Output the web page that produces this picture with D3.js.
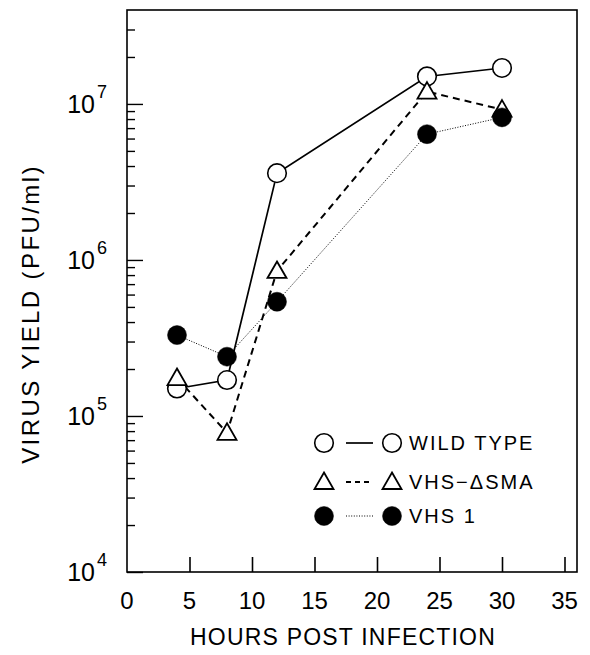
<!DOCTYPE html>
<html>
<head>
<meta charset="utf-8">
<script src="https://cdn.jsdelivr.net/npm/d3@7"></script>
<style>
  html, body { margin: 0; padding: 0; background: #fff; }
  svg text { font-family: "Liberation Sans", Arial, sans-serif; fill: #000; }
</style>
</head>
<body>
<svg id="chart" width="590" height="655"></svg>
<script>
// ---- data ----
const hours = [4, 8, 12, 24, 30];
const wildType = [1.5e5, 1.7e5, 3.6e6, 1.5e7, 1.7e7];
const vhsDeltaSMA = [1.75e5, 7.8e4, 8.5e5, 1.2e7, 9.2e6];
const vhs1 = [3.3e5, 2.4e5, 5.4e5, 6.4e6, 8.2e6];
const xTicks = [0, 5, 10, 15, 20, 25, 30, 35];
const yMajorExps = [4, 5, 6, 7];
const seriesNames = ["WILD TYPE", "VHS\u2212\u0394SMA", "VHS 1"];
const xTitle = "HOURS POST INFECTION";
const yTitle = "VIRUS YIELD (PFU/ml)";

// ---- layout ----
const L = 127, R = 577, T = 10, B = 572;
const svg = d3.select("#chart");
const x = d3.scaleLinear().domain([0, 36]).range([L, R]);
const y = d3.scaleLog().domain([1e4, 4e7]).range([B, T]);

// frame
svg.append("rect").attr("x", L).attr("y", T).attr("width", R - L).attr("height", B - T)
  .attr("fill", "none").attr("stroke", "#000").attr("stroke-width", 1.6);

// x axis ticks (inward)
const xAxis = d3.axisBottom(x).tickValues(xTicks.filter(d => d > 0)).tickSize(-15).tickFormat("");
const gx = svg.append("g").attr("transform", `translate(0,${B})`).call(xAxis);
gx.select(".domain").remove();
gx.selectAll(".tick line").attr("stroke", "#000").attr("stroke-width", 1.6);
svg.selectAll(".xlab").data(xTicks).enter().append("text")
  .attr("x", d => x(d)).attr("y", 609).attr("text-anchor", "middle")
  .attr("font-size", 24).text(d => d);

// y axis ticks (log, inward)
const yTickVals = [];
for (let e = 4; e <= 7; e++) for (let m = 1; m <= 9; m++) {
  const v = m * Math.pow(10, e);
  if (v >= 1e4 && v < 4e7) yTickVals.push(v);
}
const yAxis = d3.axisLeft(y).tickValues(yTickVals).tickFormat("")
  .tickSize(0);
const gy = svg.append("g").attr("transform", `translate(${L},0)`).call(yAxis);
gy.select(".domain").remove();
gy.selectAll(".tick line")
  .attr("x2", d => (Math.abs(Math.log10(d) - Math.round(Math.log10(d))) < 1e-9 ? 16 : 8))
  .attr("stroke", "#000").attr("stroke-width", 1.4);

const ylabs = svg.selectAll(".ylab").data(yMajorExps).enter().append("g");
ylabs.append("text").attr("x", 95).attr("y", e => y(Math.pow(10, e)) + 9)
  .attr("text-anchor", "end").attr("font-size", 25).text("10");
ylabs.append("text").attr("x", 97).attr("y", e => y(Math.pow(10, e)) - 6)
  .attr("text-anchor", "start").attr("font-size", 18).text(e => e);

// axis titles
svg.append("text").attr("x", 343).attr("y", 645).attr("text-anchor", "middle")
  .attr("font-size", 23).attr("letter-spacing", 1.2).text(xTitle);
svg.append("text").attr("transform", "translate(39,314) rotate(-90)")
  .attr("text-anchor", "middle").attr("font-size", 24).attr("letter-spacing", 2.4).text(yTitle);

// ---- series ----
const series = [
  { name: seriesNames[0], values: wildType, dash: null, width: 1.7, marker: "circleOpen" },
  { name: seriesNames[1], values: vhsDeltaSMA, dash: "7,5", width: 2, marker: "triangle" },
  { name: seriesNames[2], values: vhs1, dash: "1,1.6", width: 1, marker: "circleFilled" }
];

const line = d3.line().x(d => x(d[0])).y(d => y(d[1]));
series.forEach(s => {
  svg.append("path").datum(hours.map((h, i) => [h, s.values[i]]))
    .attr("d", line).attr("fill", "none").attr("stroke", "#000")
    .attr("stroke-width", s.width).attr("stroke-dasharray", s.dash);
});

const triPath = "M0,-9.5 L9.5,7 L-9.5,7 Z";
function drawMarker(g, type, cx, cy) {
  if (type === "circleOpen") {
    g.append("circle").attr("cx", cx).attr("cy", cy).attr("r", 9.3)
      .attr("fill", "#fff").attr("stroke", "#000").attr("stroke-width", 1.6);
  } else if (type === "circleFilled") {
    g.append("circle").attr("cx", cx).attr("cy", cy).attr("r", 9.5)
      .attr("fill", "#000").attr("stroke", "#000").attr("stroke-width", 0.5);
  } else {
    g.append("path").attr("d", triPath).attr("transform", `translate(${cx},${cy})`)
      .attr("fill", "#fff").attr("stroke", "#000").attr("stroke-width", 1.8)
      .attr("stroke-linejoin", "miter");
  }
}
series.forEach(s => {
  const g = svg.append("g");
  hours.forEach((h, i) => drawMarker(g, s.marker, x(h), y(s.values[i])));
});

// ---- legend ----
const legendY = [443, 482, 516];
series.forEach((s, i) => {
  const g = svg.append("g");
  const ly = legendY[i];
  g.append("line").attr("x1", 346).attr("x2", 373).attr("y1", ly).attr("y2", ly)
    .attr("stroke", "#000").attr("stroke-width", s.width === 1 ? 1.2 : s.width)
    .attr("stroke-dasharray", s.dash === "7,5" ? "5,4" : s.dash);
  drawMarker(g, s.marker, 324, ly);
  drawMarker(g, s.marker, 392, ly);
  g.append("text").attr("x", 409).attr("y", ly + 7).attr("font-size", 20)
    .attr("letter-spacing", 2).text(s.name);
});
</script>
</body>
</html>
